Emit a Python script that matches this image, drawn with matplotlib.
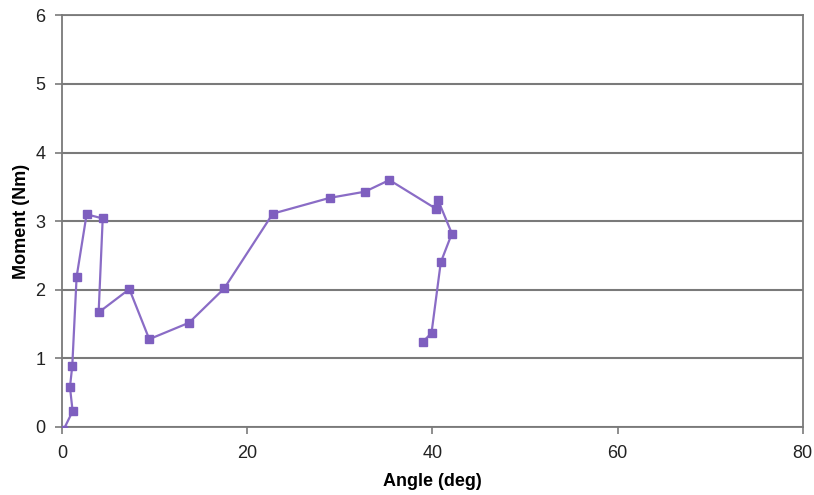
import matplotlib
matplotlib.use("Agg")
import matplotlib.pyplot as plt

angle = [0.1, 1.12, 0.83, 1.08, 1.55, 2.63, 4.37, 3.93, 7.25, 9.4, 13.7, 17.5,
         22.75, 28.9, 32.7, 35.35, 40.4, 40.6, 42.1, 40.9, 39.9, 38.95]
moment = [-0.05, 0.23, 0.58, 0.89, 2.19, 3.10, 3.04, 1.67, 2.01, 1.28, 1.52, 2.02,
          3.11, 3.34, 3.43, 3.60, 3.18, 3.31, 2.82, 2.40, 1.37, 1.24]

x_ticks = [0, 20, 40, 60, 80]
y_ticks = [0, 1, 2, 3, 4, 5, 6]

plt.rcParams['font.family'] = ['Liberation Sans', 'DejaVu Sans']

fig = plt.figure(figsize=(8.14, 4.95), dpi=100)
ax = fig.add_axes([0.0765, 0.1374, 0.986 - 0.0765, 0.9689 - 0.1374])

ax.plot(angle, moment, color='#8a6cc6', lw=1.6, marker='s', markersize=6,
        markerfacecolor='#7e5fbf', markeredgecolor='#7e5fbf', clip_on=True, zorder=3)

ax.set_xlim(0, 80)
ax.set_ylim(0, 6)
ax.set_xticks(x_ticks)
ax.set_yticks(y_ticks)
ax.yaxis.grid(True, color='#7a7a7a', lw=1.5)
ax.set_axisbelow(True)
for s in ax.spines.values():
    s.set_color('#7a7a7a')
    s.set_linewidth(1.3)
ax.tick_params(axis='both', direction='out', length=5, width=1.2, color='#7a7a7a',
               labelsize=13, labelcolor='#222222')
ax.tick_params(axis='y', pad=7)
ax.tick_params(axis='x', pad=8)
ax.set_xlabel('Angle (deg)', fontsize=13, fontweight='bold', labelpad=8)
ax.set_ylabel('Moment (Nm)', fontsize=13, fontweight='bold', labelpad=4)

fig.savefig('out.png', dpi=100)
